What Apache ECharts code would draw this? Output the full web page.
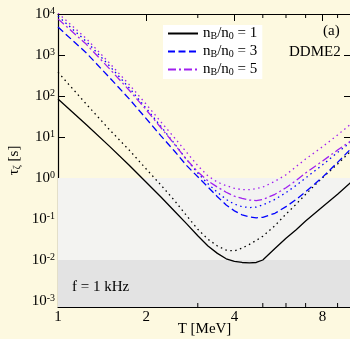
<!DOCTYPE html>
<html>
<head>
<meta charset="utf-8">
<script src="https://cdn.jsdelivr.net/npm/echarts@6/dist/echarts.min.js"></script>
<style>
    html, body { margin: 0; padding: 0; background: #fdf9e0; }
    #chart { width: 350px; height: 339px; }
</style>
</head>
<body>
<div id="chart"></div>
<script>
// temperatures T [MeV]
const temps = [1, 1.25, 1.5, 1.75, 2, 2.25, 2.5, 2.75, 3, 3.25, 3.5, 3.75, 4, 4.25, 4.5, 4.75, 5, 5.5, 6, 6.5, 7, 8, 9, 10];

// tau_zeta [s]
const tauN1 = [85, 20, 5.9, 2.04, 0.79, 0.34, 0.155, 0.076, 0.039, 0.022, 0.0145, 0.0107, 0.0093, 0.0087, 0.0085, 0.0087, 0.010, 0.019, 0.034, 0.055, 0.089, 0.20, 0.40, 0.79];
const tauN1Dot = [380, 63, 15, 4.8, 1.66, 0.66, 0.28, 0.12, 0.056, 0.032, 0.022, 0.0174, 0.0166, 0.0195, 0.024, 0.030, 0.038, 0.069, 0.132, 0.23, 0.40, 1.02, 2.2, 4.6];
const tauN3 = [4800, 1120, 280, 85, 28, 10.5, 4.5, 2.0, 1.07, 0.60, 0.35, 0.22, 0.158, 0.126, 0.112, 0.107, 0.110, 0.138, 0.20, 0.30, 0.46, 1.05, 2.4, 5.2];
const tauN3Dot = [8900, 2140, 540, 158, 50, 17.8, 6.8, 2.8, 1.32, 0.72, 0.45, 0.30, 0.23, 0.20, 0.19, 0.195, 0.22, 0.30, 0.44, 0.66, 1.0, 2.1, 4.2, 7.6];
const tauN5 = [7600, 1820, 460, 138, 46, 16.6, 6.6, 2.8, 1.41, 0.85, 0.60, 0.45, 0.36, 0.32, 0.29, 0.28, 0.30, 0.40, 0.58, 0.87, 1.32, 2.6, 4.8, 8.1];
const tauN5Dot = [10500, 2500, 630, 190, 63, 23, 9.5, 4.2, 2.0, 1.12, 0.79, 0.65, 0.56, 0.52, 0.52, 0.55, 0.60, 0.83, 1.2, 1.9, 2.9, 5.8, 11.2, 21];

// axes
const xLabels = [1, 2, 4, 8];
const xMinorTicks = [3, 5, 6, 7, 9];
const yMin = 0.000714;
const yMax = 10000;
// shaded bands
const bandLight = [0.01, 1];
const bandDark = [yMin, 0.01];

const BLUE = '#0000ff';
const PURPLE = '#a020f0';
const FONT = 'Liberation Serif';

const chart = echarts.init(document.getElementById('chart'));

const pairs = ys => temps.map((t, i) => [t, ys[i]]);

const lineSeries = (name, ys, color, type) => ({
    name: name,
    type: 'line',
    data: pairs(ys),
    symbol: 'none',
    lineStyle: { color: color, width: 1.3, type: type },
    itemStyle: { color: color },
    z: 3
});

const axisCommon = {
    axisLine: { show: true, onZero: false, lineStyle: { color: '#000', width: 1.2 } },
    axisTick: { show: true, inside: true, length: 7, lineStyle: { color: '#000', width: 1 } },
    splitLine: { show: false }
};

const option = {
    backgroundColor: '#fdf9e0',
    animation: false,
    grid: { left: 58, top: 14, right: -1, bottom: 32, containLabel: false, outerBoundsMode: 'none' },
    legend: {
        data: ['n1', 'n3', 'n5'],
        orient: 'vertical',
        left: 163,
        top: 25,
        padding: [1, 5, 2, 4],
        backgroundColor: '#ffffff',
        itemWidth: 30,
        itemHeight: 14,
        itemGap: 3,
        itemStyle: { opacity: 0 },
        formatter: name => 'n{sub|B}/n{sub|0} = ' + name.slice(1),
        textStyle: {
            color: '#000', fontFamily: FONT, fontSize: 15,
            rich: { sub: { fontFamily: FONT, fontSize: 10, verticalAlign: 'bottom', color: '#000' } }
        }
    },
    xAxis: [
        Object.assign({
            type: 'log', logBase: 2, min: 1, max: 10, position: 'bottom',
            name: 'T [MeV]', nameLocation: 'middle', nameGap: 15, nameMoveOverlap: false,
            nameTextStyle: { color: '#000', fontFamily: FONT, fontSize: 15 },
            axisLabel: {
                color: '#000', fontFamily: FONT, fontSize: 15, margin: 3,
                formatter: v => xLabels.some(l => Math.abs(l - v) < 1e-6) ? String(Math.round(v)) : ''
            }
        }, axisCommon),
        Object.assign({
            type: 'log', logBase: 2, min: 1, max: 10, position: 'top',
            axisLabel: { show: false }
        }, axisCommon)
    ],
    yAxis: [
        Object.assign({
            type: 'log', min: yMin, max: yMax, position: 'left',
            name: '{t|τ}{s|ζ}{t| [s]}', nameLocation: 'middle', nameGap: 36, nameRotate: 90,
            nameMoveOverlap: false,
            nameTextStyle: {
                color: '#000',
                rich: {
                    t: { fontFamily: FONT, fontSize: 15, color: '#000' },
                    s: { fontFamily: FONT, fontSize: 10, verticalAlign: 'bottom', color: '#000' }
                }
            },
            axisLabel: {
                margin: 3,
                formatter: v => {
                    const e = Math.log10(v);
                    if (Math.abs(e - Math.round(e)) > 1e-6) return '';
                    return '{b|10}{p|' + Math.round(e) + '}';
                },
                rich: {
                    b: { fontFamily: FONT, fontSize: 15, color: '#000' },
                    p: { fontFamily: FONT, fontSize: 10, verticalAlign: 'top', color: '#000' }
                }
            }
        }, axisCommon),
        Object.assign({
            type: 'log', min: yMin, max: yMax, position: 'right',
            axisLabel: { show: false }
        }, axisCommon)
    ],
    graphic: [
        { type: 'text', left: 323, top: 24, style: { text: '(a)', fill: '#000', font: '15px "Liberation Serif"' } },
        { type: 'text', left: 289, top: 45, style: { text: 'DDME2', fill: '#000', font: '15px "Liberation Serif"' } },
        { type: 'text', left: 72, top: 280, z: 10, style: { text: 'f = 1 kHz', fill: '#000', font: '15px "Liberation Serif"' } }
    ],
    series: [
        {
            name: 'bands',
            type: 'line',
            data: [[1, 1]],
            symbol: 'none',
            lineStyle: { opacity: 0 },
            z: 1,
            markArea: {
                silent: true,
                data: [
                    [{ yAxis: bandLight[0], itemStyle: { color: '#f3f3f1' } }, { yAxis: bandLight[1] }],
                    [{ yAxis: bandDark[0], itemStyle: { color: '#e3e3e3' } }, { yAxis: bandDark[1] }]
                ]
            }
        },
        lineSeries('n1', tauN1, '#000', 'solid'),
        lineSeries('n1dot', tauN1Dot, '#000', [1.5, 3.5]),
        lineSeries('n3', tauN3, BLUE, [7, 3.5]),
        lineSeries('n3dot', tauN3Dot, BLUE, [1.5, 3.5]),
        lineSeries('n5', tauN5, PURPLE, [8, 3, 2, 3]),
        lineSeries('n5dot', tauN5Dot, PURPLE, [1.5, 3.5]),
        {
            // minor ticks of the T axis (top and bottom)
            name: 'minorTicks',
            type: 'custom',
            silent: true,
            clip: false,
            z: 4,
            data: xMinorTicks.map(t => [t, 1]),
            renderItem: (params, api) => {
                const x = api.coord([api.value(0), 1])[0];
                const cs = params.coordSys;
                const y0 = cs.y + cs.height;
                return {
                    type: 'group',
                    children: [
                        { type: 'line', shape: { x1: x, y1: y0, x2: x, y2: y0 - 4 }, style: { stroke: '#000', lineWidth: 1 } },
                        { type: 'line', shape: { x1: x, y1: cs.y, x2: x, y2: cs.y + 4 }, style: { stroke: '#000', lineWidth: 1 } }
                    ]
                };
            }
        }
    ]
};

chart.setOption(option);
</script>
</body>
</html>
